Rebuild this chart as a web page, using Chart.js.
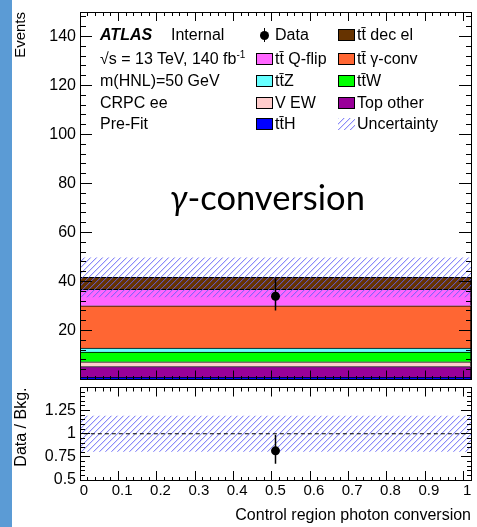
<!DOCTYPE html>
<html><head><meta charset="utf-8">
<script src="https://cdn.jsdelivr.net/npm/chart.js@4.4.1/dist/chart.umd.min.js"></script>
<style>
html,body{margin:0;padding:0;background:#fff;}
body{width:477px;height:527px;position:relative;overflow:hidden;font-family:"Liberation Sans",Arial,Helvetica,sans-serif;color:#000;}
#strip{position:absolute;left:0;top:0;width:12px;height:527px;background:#5b9bd5;}
canvas{position:absolute;left:0;}
#cMain{top:0;}
#cRatio{top:383px;}
.t{position:absolute;font-size:16px;line-height:18px;white-space:nowrap;}
.box{position:absolute;width:15px;height:10px;border:1px solid #000;}
#big{position:absolute;font-family:Lato,"Open Sans",sans-serif;font-size:34.5px;line-height:38px;white-space:nowrap;}
</style></head>
<body>
<div id="strip"></div>
<canvas id="cMain" width="477" height="384"></canvas>
<canvas id="cRatio" width="477" height="144"></canvas>
<div id="overlay"></div>
<script>
// ---------------- data ----------------
const binLabels = ['CRPC ee'];
const binCentres = [0.5];
const sampleNames = ['tt\u0304H', 'Top other', 'V EW', 'tt\u0304W', 'tt\u0304Z', 'tt\u0304 \u03b3-conv', 'tt\u0304 Q-flip', 'tt\u0304 dec el'];
const sampleYields = [0.9, 4.4, 1.9, 4.0, 1.6, 17.3, 6.7, 4.9];
const dataYield = [34.0];
const dataErrDown = [5.8];
const dataErrUp = [7.3];
const bkgUncertainty = [8.0];
const xTickLabels = ['0', '0.1', '0.2', '0.3', '0.4', '0.5', '0.6', '0.7', '0.8', '0.9', '1'];
const yTickLabelsMain = ['20', '40', '60', '80', '100', '120', '140'];
const yTickLabelsRatio = ['0.5', '0.75', '1', '1.25'];
const legendCol1 = ['Data', 'tt\u0304 Q-flip', 'tt\u0304Z', 'V EW', 'tt\u0304H'];
const legendCol2 = ['tt\u0304 dec el', 'tt\u0304 \u03b3-conv', 'tt\u0304W', 'Top other', 'Uncertainty'];

// ---------------- styles ----------------
const sampleColours = ['#0000ff', '#990099', '#ffcccc', '#00ff00', '#66ffff', '#ff6633', '#ff66ff', '#663300'];
const hatchStrong = 'rgba(100,100,245,0.75)';
const hatchSoft = 'rgba(100,100,245,0.22)';

Chart.defaults.font.family = '"Liberation Sans", Arial, sans-serif';
Chart.defaults.color = '#000';

function hatchTile() {
  const t = document.createElement('canvas');
  t.width = 6; t.height = 6;
  const g = t.getContext('2d');
  for (let i = 0; i < 6; i++) {
    g.fillStyle = hatchStrong; g.fillRect(i, 5 - i, 1, 1);
    g.fillStyle = hatchSoft; g.fillRect(i, (6 - i) % 6, 1, 1);
  }
  return t;
}
function makeHatch(canvas) {
  return canvas.getContext('2d').createPattern(hatchTile(), 'repeat');
}

function axis(pos, min, max, step, majorStep, L, m, labelList, fontSize, pad, size, extra) {
  const near = (pos === 'left' || pos === 'top');
  const isMajor = v => Math.abs(v / majorStep - Math.round(v / majorStep)) < 1e-6;
  const fmt = v => String(Math.round(v * 1000) / 1000);
  const ticks = labelList
    ? {display: true, stepSize: step, includeBounds: false, autoSkip: false, maxRotation: 0, minRotation: 0,
       padding: pad, font: {size: fontSize}, color: '#000',
       callback: v => (labelList.indexOf(fmt(v)) >= 0 ? fmt(v) : '')}
    : {display: false, stepSize: step, includeBounds: false, autoSkip: false};
  return Object.assign({
    type: 'linear', position: pos, min: min, max: max, display: true,
    afterFit(s) {
      if (pos === 'left' || pos === 'right') s.width = size; else s.height = size;
      s.paddingLeft = 0; s.paddingRight = 0; s.paddingTop = 0; s.paddingBottom = 0;
    },
    border: {display: true, color: '#000', width: 1, z: 1},
    grid: {
      drawOnChartArea: false, drawTicks: true, tickLength: -L, tickColor: '#000', tickWidth: 1, z: 1,
      tickBorderDash: ctx => (ctx.tick && isMajor(ctx.tick.value)) ? [] : (near ? [0, L - m, m, 100] : [m, 100])
    },
    ticks: ticks
  }, extra || {});
}

const total = sampleYields.reduce((a, b) => a + b, 0);

// ---------------- main chart ----------------
const cMain = document.getElementById('cMain');
const hatchMain = makeHatch(cMain);
const mainSets = [];
mainSets.push({type: 'line', label: 'Data', xAxisID: 'x', yAxisID: 'y', order: 0, showLine: false,
  data: binCentres.map((x, i) => ({x: x, y: dataYield[i]})), pointRadius: 4.5, pointBackgroundColor: '#000', pointBorderColor: '#000', pointBorderWidth: 0});
mainSets.push({type: 'line', label: 'Data err', xAxisID: 'x', yAxisID: 'y', order: 0, pointRadius: 0, borderColor: '#000', borderWidth: 1.5,
  data: [{x: binCentres[0], y: dataYield[0] - dataErrDown[0]}, {x: binCentres[0], y: dataYield[0] + dataErrUp[0]}]});
mainSets.push({type: 'bar', label: 'Uncertainty', xAxisID: 'xc', yAxisID: 'y', order: 1,
  data: [[total - bkgUncertainty[0], total + bkgUncertainty[0]]], backgroundColor: hatchMain, borderWidth: 0,
  barPercentage: 1, categoryPercentage: 1, grouped: false});
let cum = 0;
sampleNames.forEach((n, i) => {
  const lo = cum; cum += sampleYields[i];
  mainSets.push({type: 'bar', label: n, xAxisID: 'xc', yAxisID: 'y', order: 2 + i,
    data: [[lo, cum]], backgroundColor: sampleColours[i], borderColor: '#000', borderWidth: 1, borderSkipped: 'start',
    barPercentage: 1, categoryPercentage: 1, grouped: false});
});

new Chart(cMain, {
  type: 'bar',
  data: {labels: binLabels, datasets: mainSets},
  options: {
    responsive: false, animation: false, devicePixelRatio: 1,
    layout: {padding: 0},
    plugins: {legend: {display: false}, tooltip: {enabled: false}},
    events: [],
    scales: {
      xc: {type: 'category', labels: binLabels, display: false, offset: true},
      x: axis('bottom', 0, 1, 0.02, 0.1, 9, 4, null, 15, 0, 1),
      xt: axis('top', 0, 1, 0.02, 0.1, 9, 4, null, 15, 0, 12),
      y: axis('left', 0, 150, 4, 20, 12, 6, yTickLabelsMain, 16, 16, 80,
        {title: {display: true, text: 'Events', align: 'end', font: {size: 15}, color: '#000', padding: {top: 12, bottom: 0}}}),
      yr: axis('right', 0, 150, 4, 20, 12, 6, null, 16, 0, 6)
    }
  }
});

// ---------------- ratio chart ----------------
const cRatio = document.getElementById('cRatio');
const hatchRatio = makeHatch(cRatio);
const ratioSets = [];
ratioSets.push({type: 'line', label: 'Ratio', xAxisID: 'x', yAxisID: 'y', order: 0, showLine: false,
  data: binCentres.map((x, i) => ({x: x, y: dataYield[i] / total})), pointRadius: 4.5, pointBackgroundColor: '#000', pointBorderWidth: 0});
ratioSets.push({type: 'line', label: 'Ratio err', xAxisID: 'x', yAxisID: 'y', order: 0, pointRadius: 0, borderColor: '#000', borderWidth: 1.5,
  data: [{x: binCentres[0], y: (dataYield[0] - dataErrDown[0]) / total}, {x: binCentres[0], y: (dataYield[0] + dataErrUp[0]) / total}]});
ratioSets.push({type: 'line', label: 'Unity', xAxisID: 'x', yAxisID: 'y', order: 1, pointRadius: 0, borderColor: '#000', borderWidth: 1, borderDash: [4, 3],
  data: [{x: 0, y: 1}, {x: 1, y: 1}]});
ratioSets.push({type: 'bar', label: 'Uncertainty', xAxisID: 'xc', yAxisID: 'y', order: 2,
  data: [[1 - bkgUncertainty[0] / total, 1 + bkgUncertainty[0] / total]], backgroundColor: hatchRatio, borderWidth: 0,
  barPercentage: 1, categoryPercentage: 1, grouped: false});

new Chart(cRatio, {
  type: 'bar',
  data: {labels: binLabels, datasets: ratioSets},
  options: {
    responsive: false, animation: false, devicePixelRatio: 1,
    layout: {padding: 0},
    plugins: {legend: {display: false}, tooltip: {enabled: false}},
    events: [],
    scales: {
      xc: {type: 'category', labels: binLabels, display: false, offset: true},
      x: axis('bottom', 0, 1, 0.02, 0.1, 9, 4, xTickLabels, 15, 11, 47,
        {title: {display: true, text: 'Control region photon conversion', align: 'end', font: {size: 16}, color: '#000', padding: {top: 0, bottom: 1.4}}}),
      xt: axis('top', 0, 1, 0.02, 0.1, 9, 4, null, 15, 0, 1),
      y: axis('left', 0.5, 1.5, 0.05, 0.25, 10, 5, yTickLabelsRatio, 16, 14, 80,
        {title: {display: true, text: 'Data / Bkg.', align: 'end', font: {size: 16}, color: '#000', padding: {top: 12, bottom: 0}}}),
      yr: axis('right', 0.5, 1.5, 0.05, 0.25, 10, 5, null, 16, 0, 6)
    }
  }
});

// ---------------- text overlay ----------------
const ov = document.getElementById('overlay');
function addDiv(cls, html, left, top, style) {
  const d = document.createElement('div');
  d.className = cls; d.innerHTML = html;
  d.style.left = left + 'px'; d.style.top = top + 'px';
  if (style) d.style.cssText += style;
  ov.appendChild(d);
  return d;
}
const rowY = [35, 58.5, 81, 102.5, 124];
addDiv('t', '<b><i>ATLAS</i></b>', 100, rowY[0] - 9);
addDiv('t', 'Internal', 171, rowY[0] - 9);
addDiv('t', '\u221as = 13 TeV, 140 fb<sup style="font-size:10px;vertical-align:6px;line-height:0">-1</sup>', 100, rowY[1] - 9);
addDiv('t', 'm(HNL)=50 GeV', 100, rowY[2] - 9);
addDiv('t', 'CRPC ee', 100, rowY[3] - 9);
addDiv('t', 'Pre-Fit', 100, rowY[4] - 9);

function legendEntry(name, boxLeft, textLeft, y) {
  if (name === 'Data') {
    addDiv('t', '', boxLeft + 4, y - 4, 'width:9px;height:9px;border-radius:50%;background:#000;');
    addDiv('t', '', boxLeft + 8, y - 7, 'width:1px;height:14px;background:#000;');
  } else if (name === 'Uncertainty') {
    const d = addDiv('t', '', boxLeft, y - 6, 'width:17px;height:12px;');
    d.style.backgroundImage = 'url(' + hatchTile().toDataURL() + ')';
  } else {
    const idx = sampleNames.indexOf(name);
    addDiv('box', '', boxLeft, y - 6, 'background:' + sampleColours[idx] + ';');
  }
  addDiv('t', name, textLeft, y - 9);
}
legendCol1.forEach((n, i) => legendEntry(n, 256, 275, rowY[i]));
legendCol2.forEach((n, i) => legendEntry(n, 338, 357, rowY[i]));

const big = addDiv('', '<i>\u03b3</i>-conversion', 170, 178, '');
big.id = 'big';
</script>
</body></html>
